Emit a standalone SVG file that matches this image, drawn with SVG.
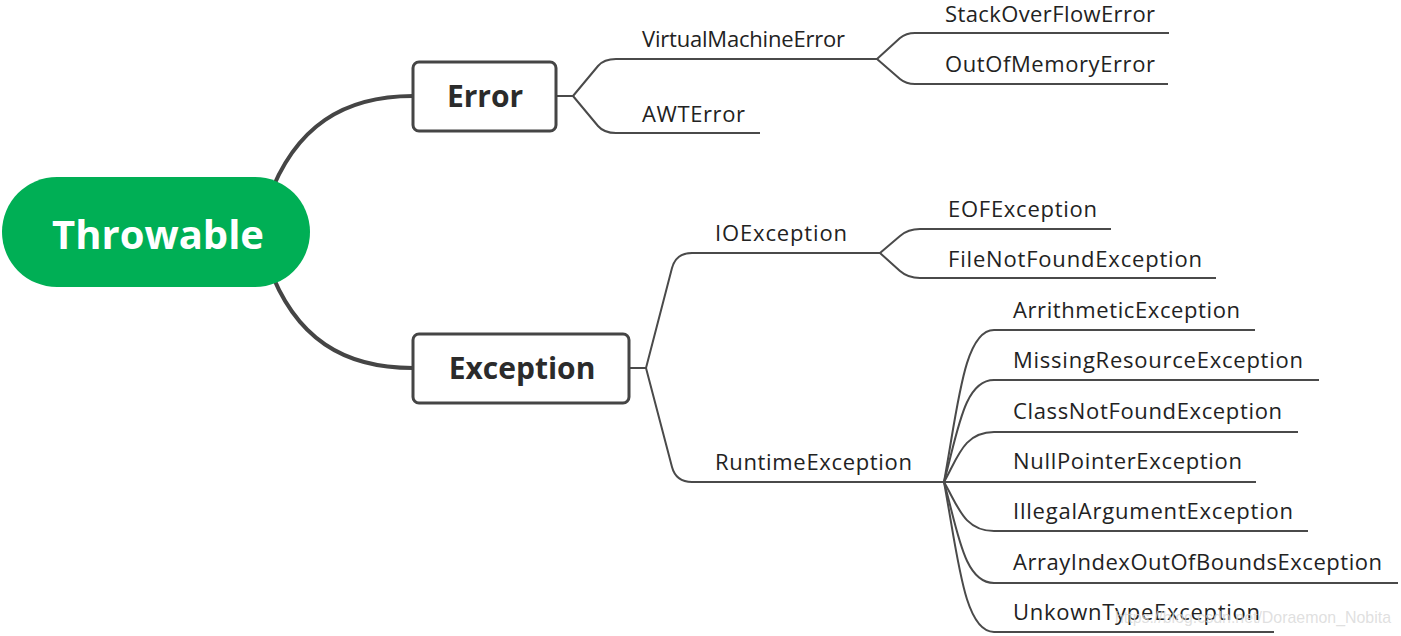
<svg xmlns="http://www.w3.org/2000/svg" width="1401" height="636" viewBox="0 0 1401 636">
<style>
.main{fill:none;stroke:#454545;stroke-width:4;stroke-linecap:round}
.ln{fill:none;stroke:#4a4a4a;stroke-width:2}
.box{fill:#fff;stroke:#454545;stroke-width:3}
.t{font-family:"Open Sans","Noto Sans",sans-serif;font-size:22px;fill:#222}
.b{font-family:"Open Sans","Noto Sans",sans-serif;font-size:30px;font-weight:bold;fill:#2b2b2b;text-anchor:middle}
</style>
<rect width="1401" height="636" fill="#fff"/>
<g id="connectors">
<path class="main" d="M268,200 C295,125 345,96 413,96"/>
<path class="main" d="M268,264 C295,340 345,368 413,368"/>
<path class="ln" d="M556,96 H573"/>
<path class="ln" d="M573,96 L598,66 Q604,59 616,59 H877"/>
<path class="ln" d="M573,96 L598,126 Q604,133 616,133 H760"/>
<path class="ln" d="M877,59 L900,38 Q906,33 915,33 H1169"/>
<path class="ln" d="M877,59 L900,79 Q906,84 915,84 H1168"/>
<path class="ln" d="M629,368 H646"/>
<path class="ln" d="M646,368 L672,268 Q676,253 692,253 H880"/>
<path class="ln" d="M646,368 L672,467 Q676,482 692,482 H945"/>
<path class="ln" d="M880,253 L900,236 Q908,229 920,229 H1111"/>
<path class="ln" d="M880,253 L900,271 Q908,278 920,278 H1216"/>
<path class="ln" d="M944,482 C958,406 964,330 994,330 H1255"/>
<path class="ln" d="M944,482 C958,431 964,380 994,380 H1319"/>
<path class="ln" d="M944,482 C958,457 964,432 994,432 H1298"/>
<path class="ln" d="M932,482 H1256"/>
<path class="ln" d="M944,482 C958,506 964,531 994,531 H1308"/>
<path class="ln" d="M944,482 C958,532 964,583 994,583 H1398"/>
<path class="ln" d="M944,482 C958,557 964,632 994,632 H1274"/>
</g>
<g id="throwable">
<rect x="2" y="177" width="308" height="110" rx="55" fill="#00AF55"/>
<text x="158" y="249" font-family="'Open Sans','Noto Sans',sans-serif" font-size="40" font-weight="bold" fill="#fff" text-anchor="middle">Throwable</text>
</g>
<g id="error">
<rect class="box" x="413" y="62" width="143" height="69" rx="6"/>
<text class="b" x="485" y="107">Error</text>
</g>
<g id="exception">
<rect class="box" x="413" y="334" width="216" height="69" rx="6"/>
<text class="b" x="522" y="379">Exception</text>
</g>
<g id="virtualmachineerror"><text class="t" x="642" y="47" textLength="203" lengthAdjust="spacing">VirtualMachineError</text></g>
<g id="awterror"><text class="t" x="642" y="122" textLength="103" lengthAdjust="spacing">AWTError</text></g>
<g id="stackoverflowerror"><text class="t" x="945" y="22" textLength="210" lengthAdjust="spacing">StackOverFlowError</text></g>
<g id="outofmemoryerror"><text class="t" x="945" y="72" textLength="210" lengthAdjust="spacing">OutOfMemoryError</text></g>
<g id="ioexception"><text class="t" x="715" y="241" textLength="132" lengthAdjust="spacing">IOException</text></g>
<g id="runtimeexception"><text class="t" x="715" y="470" textLength="197" lengthAdjust="spacing">RuntimeException</text></g>
<g id="eofexception"><text class="t" x="948" y="217" textLength="149" lengthAdjust="spacing">EOFException</text></g>
<g id="filenotfoundexception"><text class="t" x="948" y="267" textLength="254" lengthAdjust="spacing">FileNotFoundException</text></g>
<g id="arrithmeticexception"><text class="t" x="1013" y="318" textLength="227" lengthAdjust="spacing">ArrithmeticException</text></g>
<g id="missingresourceexception"><text class="t" x="1013" y="368" textLength="290" lengthAdjust="spacing">MissingResourceException</text></g>
<g id="classnotfoundexception"><text class="t" x="1013" y="419" textLength="269" lengthAdjust="spacing">ClassNotFoundException</text></g>
<g id="nullpointerexception"><text class="t" x="1013" y="469" textLength="229" lengthAdjust="spacing">NullPointerException</text></g>
<g id="illegalargumentexception"><text class="t" x="1013" y="519" textLength="280" lengthAdjust="spacing">IllegalArgumentException</text></g>
<g id="arrayindexoutofboundsexception"><text class="t" x="1013" y="570" textLength="369" lengthAdjust="spacing">ArrayIndexOutOfBoundsException</text></g>
<g id="unkowntypeexception"><text class="t" x="1013" y="620" textLength="247" lengthAdjust="spacing">UnkownTypeException</text></g>
<text x="1115" y="623" font-family="'Liberation Sans',sans-serif" font-size="17" fill="#d8d8d8" fill-opacity="0.8" textLength="276" lengthAdjust="spacingAndGlyphs">https://blog.csdn.net/Doraemon_Nobita</text>
</svg>
